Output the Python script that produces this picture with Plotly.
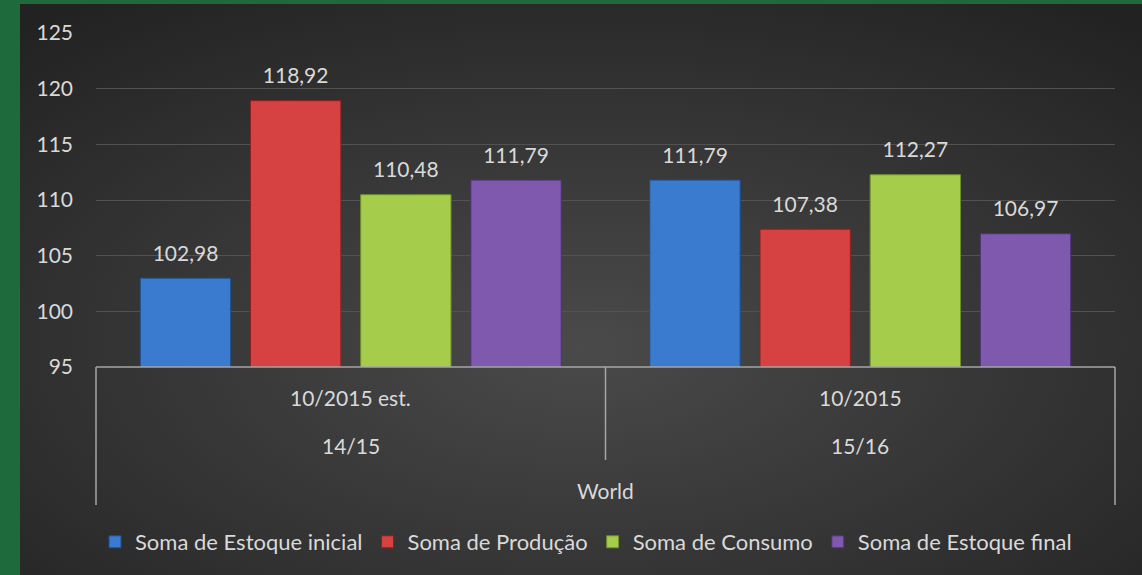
import base64
import plotly.graph_objects as go

# ---- data ----
periods = ["10/2015 est.", "10/2015"]
seasons = ["14/15", "15/16"]
region = "World"
series_names = ["Soma de Estoque inicial", "Soma de Produção", "Soma de Consumo", "Soma de Estoque final"]
estoque_inicial = [102.98, 111.79]
producao = [118.92, 107.38]
consumo = [110.48, 112.27]
estoque_final = [111.79, 106.97]
y_ticks = [95, 100, 105, 110, 115, 120, 125]

series_values = [estoque_inicial, producao, consumo, estoque_final]
colors = ["#3b7bcf", "#d64141", "#a5cc4b", "#7f59ae"]
edge_colors = ["#1f4f8f", "#8f2020", "#6f8f2a", "#4f3178"]

TXT = "#d9d9d9"
FONT = "Lato"
FS = 21

fig = go.Figure()
for i, (name, vals, c, ec) in enumerate(zip(series_names, series_values, colors, edge_colors)):
    fig.add_trace(go.Bar(
        name=name, x=periods, y=vals, offsetgroup=str(i),
        marker=dict(color=c, line=dict(color=ec, width=1)),
        cliponaxis=False,
    ))
for i, (name, vals) in enumerate(zip(series_names, series_values)):
    fig.add_trace(go.Scatter(
        x=periods, y=vals, offsetgroup=str(i), mode="markers+text",
        marker=dict(size=18, opacity=0),
        texttemplate="%{y:.2f}", textposition="top center",
        textfont=dict(color=TXT, size=FS, family=FONT),
        showlegend=False, hoverinfo="skip", cliponaxis=False,
    ))

# background radial gradient panel (svg data uri)
svg = ('<svg xmlns="http://www.w3.org/2000/svg" width="1122" height="571" viewBox="0 0 1122 571" preserveAspectRatio="none">'
       '<defs><radialGradient id="g" cx="0.5" cy="0.6" r="0.75" gradientUnits="objectBoundingBox">'
       '<stop offset="0" stop-color="#4a4a4a"/><stop offset="1" stop-color="#222222"/></radialGradient></defs>'
       '<rect width="1122" height="571" fill="url(#g)"/></svg>')
src = "data:image/svg+xml;base64," + base64.b64encode(svg.encode()).decode()

L, R, T, B = 96, 27, 33, 208
W, H = 1142, 575
pw, ph = W - L - R, H - T - B

def px(x):
    return (x - L) / pw

def py(y):
    return (H - B - y) / ph

fig.add_layout_image(dict(source=src, xref="paper", yref="paper",
                          x=px(20), y=py(4), sizex=px(W) - px(20), sizey=py(4) - py(H),
                          xanchor="left", yanchor="top", sizing="stretch", layer="below"))

AX = "#a6a6a6"
shapes = [
    dict(type="line", xref="paper", yref="paper", x0=0, x1=1, y0=0, y1=0, line=dict(color=AX, width=1.5)),
    dict(type="line", xref="paper", yref="paper", x0=0, x1=0, y0=0, y1=py(505), line=dict(color=AX, width=1.5)),
    dict(type="line", xref="paper", yref="paper", x0=1, x1=1, y0=0, y1=py(505), line=dict(color=AX, width=1.5)),
    dict(type="line", xref="paper", yref="paper", x0=0.5, x1=0.5, y0=0, y1=py(460), line=dict(color=AX, width=1.5)),
]
annotations = []
for p, s in zip(periods, seasons):
    annotations.append(dict(x=p, xref="x", y=py(398), yref="paper", yanchor="middle", text=p, showarrow=False,
                            font=dict(color=TXT, size=FS, family=FONT)))
    annotations.append(dict(x=p, xref="x", y=py(445), yref="paper", yanchor="middle", text=s, showarrow=False,
                            font=dict(color=TXT, size=FS, family=FONT)))
annotations.append(dict(x=0.5, xref="paper", y=py(490), yref="paper", yanchor="middle", text=region,
                        showarrow=False, font=dict(color=TXT, size=FS, family=FONT)))

fig.update_layout(
    width=W, height=H,
    margin=dict(l=L, r=R, t=T, b=B),
    paper_bgcolor="#1e6a3c",
    plot_bgcolor="rgba(0,0,0,0)",
    separators=",.",
    barmode="group",
    bargap=0.135,
    bargroupgap=0.18,
    scattermode="group",
    scattergap=0.135,
    font=dict(family=FONT, color=TXT, size=FS),
    showlegend=True,
    legend=dict(orientation="h", x=px(586), xanchor="center", y=py(542), yanchor="middle",
                font=dict(size=22, color=TXT, family=FONT), bgcolor="rgba(0,0,0,0)",
                itemclick=False, itemwidth=30),
    xaxis=dict(showticklabels=False, showgrid=False, zeroline=False, showline=False, ticks=""),
    yaxis=dict(range=[95, 125], tickvals=y_ticks, showgrid=True, gridcolor="#525252", gridwidth=1,
               zeroline=False, showline=False, ticks="", ticklabelstandoff=22,
               tickfont=dict(size=FS, color=TXT, family=FONT)),
    shapes=shapes,
    annotations=annotations,
)

fig.write_html("out.html", config={"displayModeBar": False},
               post_script="document.body.style.margin='0';document.documentElement.style.overflow='hidden';")
